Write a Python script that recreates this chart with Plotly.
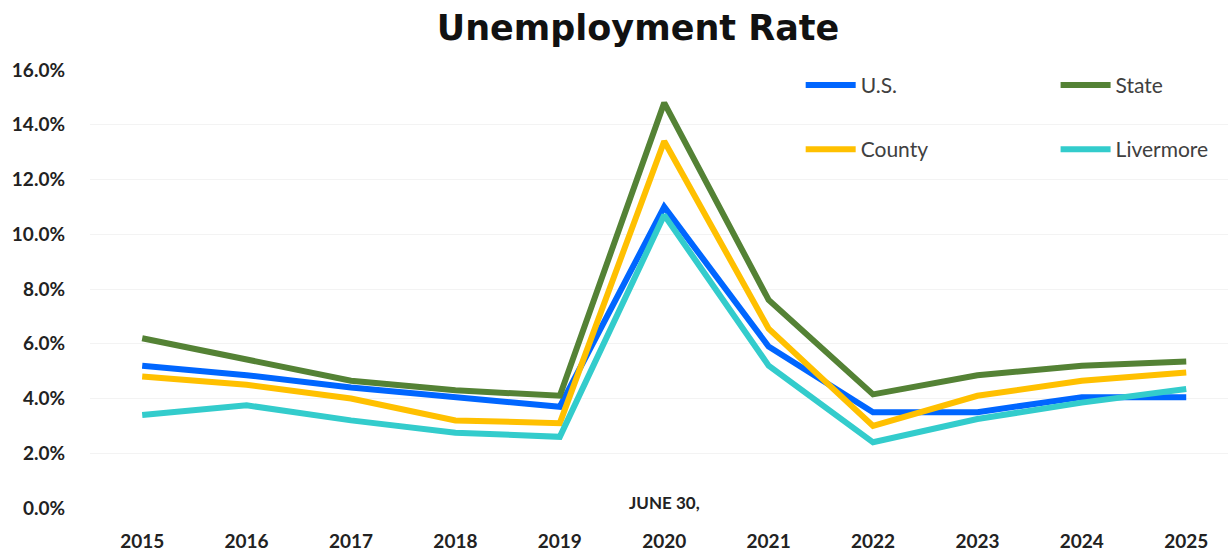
import plotly.graph_objects as go

years = ["2015", "2016", "2017", "2018", "2019", "2020", "2021", "2022", "2023", "2024", "2025"]
us = [5.2, 4.85, 4.4, 4.05, 3.7, 11.0, 5.9, 3.5, 3.5, 4.05, 4.05]
state = [6.2, 5.4, 4.65, 4.3, 4.1, 14.8, 7.6, 4.15, 4.85, 5.2, 5.35]
county = [4.8, 4.5, 4.0, 3.2, 3.1, 13.4, 6.55, 3.0, 4.1, 4.65, 4.95]
livermore = [3.4, 3.75, 3.2, 2.75, 2.6, 10.7, 5.2, 2.4, 3.25, 3.85, 4.35]

y_ticks = [0, 2, 4, 6, 8, 10, 12, 14, 16]

series = {
    "U.S.": (us, "#0066FF", "legend", "a", 1),
    "County": (county, "#FFC000", "legend", "b", 2),
    "State": (state, "#548235", "legend2", "c", 1),
    "Livermore": (livermore, "#33CCCC", "legend2", "d", 2),
}

fig = go.Figure()
# Layering: U.S. at the bottom, Livermore drawn last
for name in ["U.S.", "State", "County", "Livermore"]:
    vals, color, leg, grp, rank = series[name]
    fig.add_trace(go.Scatter(
        x=years, y=vals, name=name, mode="lines",
        line=dict(color=color, width=6),
        legend=leg, legendgroup=grp, legendrank=rank,
    ))

label_font = dict(family="Lato, Open Sans, sans-serif", size=19, color="#222222", weight="bold")
legend_font = dict(family="Lato, Open Sans, sans-serif", size=21, color="#404040")

fig.update_layout(
    width=1228, height=553,
    margin=dict(l=90, r=0, t=70, b=45),
    paper_bgcolor="white", plot_bgcolor="white",
    title=dict(
        text="<b>Unemployment Rate</b>",
        font=dict(family="DejaVu Sans, sans-serif", size=35, color="#111111"),
        x=638 / 1228, xref="container", xanchor="center",
        y=1 - 28 / 553, yref="container", yanchor="middle",
    ),
    xaxis=dict(
        type="category", range=[-0.5, 10.4],
        showgrid=False, showline=False, zeroline=False, ticks="",
        tickfont=label_font, ticklabelstandoff=20,
    ),
    yaxis=dict(
        range=[0, 16], tickvals=y_ticks,
        ticktext=[f"{v:.1f}%" for v in y_ticks],
        showgrid=True, gridcolor="#F3F3F3", gridwidth=1,
        zeroline=False, showline=False, ticks="",
        tickfont=label_font, ticklabelstandoff=24,
    ),
    legend=dict(
        x=0.6245, y=1.012, xanchor="left", yanchor="top",
        font=legend_font, bgcolor="rgba(0,0,0,0)", tracegroupgap=34,
        itemwidth=50,
    ),
    legend2=dict(
        x=0.8485, y=1.012, xanchor="left", yanchor="top",
        font=legend_font, bgcolor="rgba(0,0,0,0)", tracegroupgap=34,
        itemwidth=50,
    ),
    annotations=[dict(
        text="<b>JUNE 30,</b>", x=5, xref="x", y=6 / 438, yref="paper",
        xanchor="center", yanchor="middle", showarrow=False,
        font=dict(family="Lato, Open Sans, sans-serif", size=17, color="#222222"),
    )],
)

fig.write_html("out.html")
